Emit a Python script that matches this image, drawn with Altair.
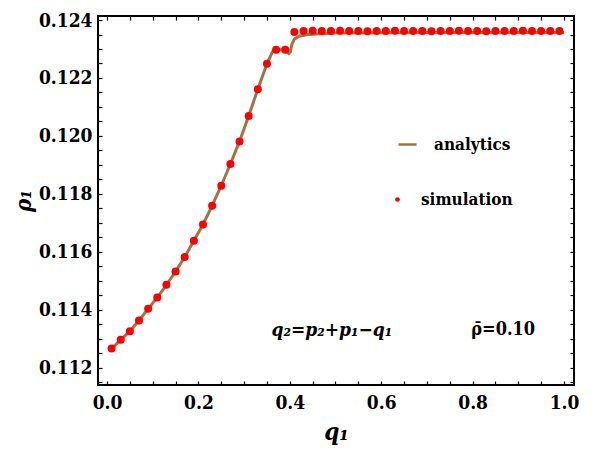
import altair as alt
import pandas as pd

# ---------------- data ----------------
sim_q = [0.01, 0.03, 0.05, 0.07, 0.09, 0.11, 0.13, 0.15, 0.17, 0.19,
         0.21, 0.23, 0.25, 0.27, 0.29, 0.31, 0.33, 0.35, 0.37, 0.39,
         0.41, 0.43, 0.45, 0.47, 0.49, 0.51, 0.53, 0.55, 0.57, 0.59,
         0.61, 0.63, 0.65, 0.67, 0.69, 0.71, 0.73, 0.75, 0.77, 0.79,
         0.81, 0.83, 0.85, 0.87, 0.89, 0.91, 0.93, 0.95, 0.97, 0.99]
sim_rho = [0.11266, 0.11296, 0.11326, 0.11363, 0.11403, 0.11442, 0.11486, 0.11532, 0.11582, 0.11638,
           0.11694, 0.11759, 0.11828, 0.11903, 0.11981, 0.12069, 0.12161, 0.12249, 0.12297, 0.12297,
           0.12359, 0.12362, 0.12363, 0.12362, 0.12362, 0.12363, 0.12362, 0.12362, 0.12361, 0.12362,
           0.12362, 0.12363, 0.12362, 0.12362, 0.12362, 0.12361, 0.12362, 0.12362, 0.12363, 0.12362,
           0.12362, 0.12361, 0.12362, 0.12362, 0.12362, 0.12363, 0.12362, 0.12362, 0.12362, 0.12362]

line_q = [0.01, 0.03, 0.05, 0.07, 0.09, 0.11, 0.13, 0.15, 0.17, 0.19,
          0.21, 0.23, 0.25, 0.27, 0.29, 0.31, 0.33, 0.35, 0.362, 0.37,
          0.38, 0.39, 0.398, 0.401, 0.405, 0.41, 0.42, 0.44, 0.47, 0.5,
          0.6, 0.7, 0.8, 0.9, 1.0]
line_rho = [0.11266, 0.11296, 0.11326, 0.11363, 0.11403, 0.11442, 0.11486, 0.11532, 0.11582, 0.11638,
            0.11694, 0.11759, 0.11828, 0.11903, 0.11981, 0.12069, 0.12161, 0.12249, 0.12290, 0.12297,
            0.12297, 0.12296, 0.12284, 0.12290, 0.12318, 0.12334, 0.12344, 0.12350, 0.12353, 0.12355,
            0.12356, 0.12357, 0.12357, 0.12357, 0.12357]

x_ticks = [0.0, 0.05, 0.1, 0.15, 0.2, 0.25, 0.3, 0.35, 0.4, 0.45, 0.5,
           0.55, 0.6, 0.65, 0.7, 0.75, 0.8, 0.85, 0.9, 0.95, 1.0]
y_ticks = [0.1115, 0.112, 0.1125, 0.113, 0.1135, 0.114, 0.1145, 0.115, 0.1155,
           0.116, 0.1165, 0.117, 0.1175, 0.118, 0.1185, 0.119, 0.1195, 0.12,
           0.1205, 0.121, 0.1215, 0.122, 0.1225, 0.123, 0.1235, 0.124]

ann1_text = ["q₂=p₂+p₁−q₁"]
ann1_q = [0.492]
ann1_rho = [0.11329]
ann2_text = ["ρ̄=0.10"]
ann2_q = [0.867]
ann2_rho = [0.11329]

x_domain = [-0.0197, 1.0219]
y_domain = [0.111402, 0.124139]

BROWN = "#a27340"
FONT = "'DejaVu Serif Condensed', 'DejaVu Serif', 'Liberation Serif', serif"

sim_df = pd.DataFrame({"q": sim_q, "rho": sim_rho, "series": "simulation"})
line_df = pd.DataFrame({"q": line_q, "rho": line_rho, "series": "analytics"})
ann1_df = pd.DataFrame({"t": ann1_text, "q": ann1_q, "rho": ann1_rho})
ann2_df = pd.DataFrame({"t": ann2_text, "q": ann2_q, "rho": ann2_rho})

xs = alt.Scale(domain=x_domain, nice=False, zero=False)
ys = alt.Scale(domain=y_domain, nice=False, zero=False)

x_major = "abs(datum.value*5 - round(datum.value*5)) < 1e-6 ? format(datum.value, '.1f') : ''"
y_major = "abs(datum.value*500 - round(datum.value*500)) < 1e-6 ? format(datum.value, '.3f') : ''"

tick_in = alt.ExprRef(expr="-4")

line = alt.Chart(line_df).mark_line(strokeWidth=3).encode(
    x=alt.X("q:Q", scale=xs,
            axis=alt.Axis(orient="bottom", values=x_ticks, labelExpr=x_major,
                          tickSize=tick_in, labelPadding=12, title="q₁",
                          titleFontStyle="italic", titleFontSize=24, titlePadding=8)),
    y=alt.Y("rho:Q", scale=ys,
            axis=alt.Axis(orient="left", values=y_ticks, labelExpr=y_major,
                          tickSize=tick_in, labelPadding=10, title="ρ₁",
                          titleFontStyle="italic", titleFontSize=22, titlePadding=3)),
    stroke=alt.Stroke("series:N",
                      scale=alt.Scale(domain=["analytics"], range=[BROWN]),
                      legend=alt.Legend(orient="none", legendX=299, legendY=118, title=None,
                                        symbolType="stroke", symbolSize=324, symbolStrokeWidth=2.5,
                                        labelOffset=16, padding=0,
                                        labelFont=FONT, labelFontSize=17, labelFontWeight="bold",
                                        labelColor="black")),
)

points = alt.Chart(sim_df).mark_circle(size=64, opacity=1).encode(
    x=alt.X("q:Q", scale=xs,
            axis=alt.Axis(orient="top", values=x_ticks, labels=False, tickSize=tick_in, title=None)),
    y=alt.Y("rho:Q", scale=ys,
            axis=alt.Axis(orient="right", values=y_ticks, labels=False, tickSize=tick_in, title=None)),
    fill=alt.Fill("series:N",
                  scale=alt.Scale(domain=["simulation"], range=["#ff0000"]),
                  legend=alt.Legend(orient="none", legendX=291, legendY=175, title=None,
                                    symbolType="circle", symbolSize=22, symbolOpacity=1,
                                    labelOffset=15, padding=0,
                                    labelFont=FONT, labelFontSize=17, labelFontWeight="bold",
                                    labelColor="black")),
)

ann1 = alt.Chart(ann1_df).mark_text(font=FONT, fontSize=19, fontWeight="bold",
                                    fontStyle="italic", color="black").encode(
    x=alt.X("q:Q", scale=xs, axis=None),
    y=alt.Y("rho:Q", scale=ys, axis=None),
    text="t:N",
)
ann2 = alt.Chart(ann2_df).mark_text(font=FONT, fontSize=18, fontWeight="bold",
                                    color="black").encode(
    x=alt.X("q:Q", scale=xs, axis=None),
    y=alt.Y("rho:Q", scale=ys, axis=None),
    text="t:N",
)

chart = alt.layer(line, points, ann1, ann2).resolve_axis(
    x="independent", y="independent"
).resolve_scale(
    stroke="independent", fill="independent"
).properties(
    width=476, height=369,
    autosize=alt.AutoSizeParams(type="none"),
    padding={"left": 90, "top": 8, "right": 16, "bottom": 63},
).configure_view(
    stroke="black", strokeWidth=2
).configure_axis(
    domain=False, grid=False, tickColor="black", tickWidth=1.2,
    labelFont=FONT, labelFontSize=19, labelFontWeight="bold", labelColor="black",
    titleFont=FONT, titleFontWeight="bold", titleColor="black",
    labelFlush=False, labelOverlap=False,
)

chart.save("out.html", embed_options={"renderer": "svg", "actions": False})
